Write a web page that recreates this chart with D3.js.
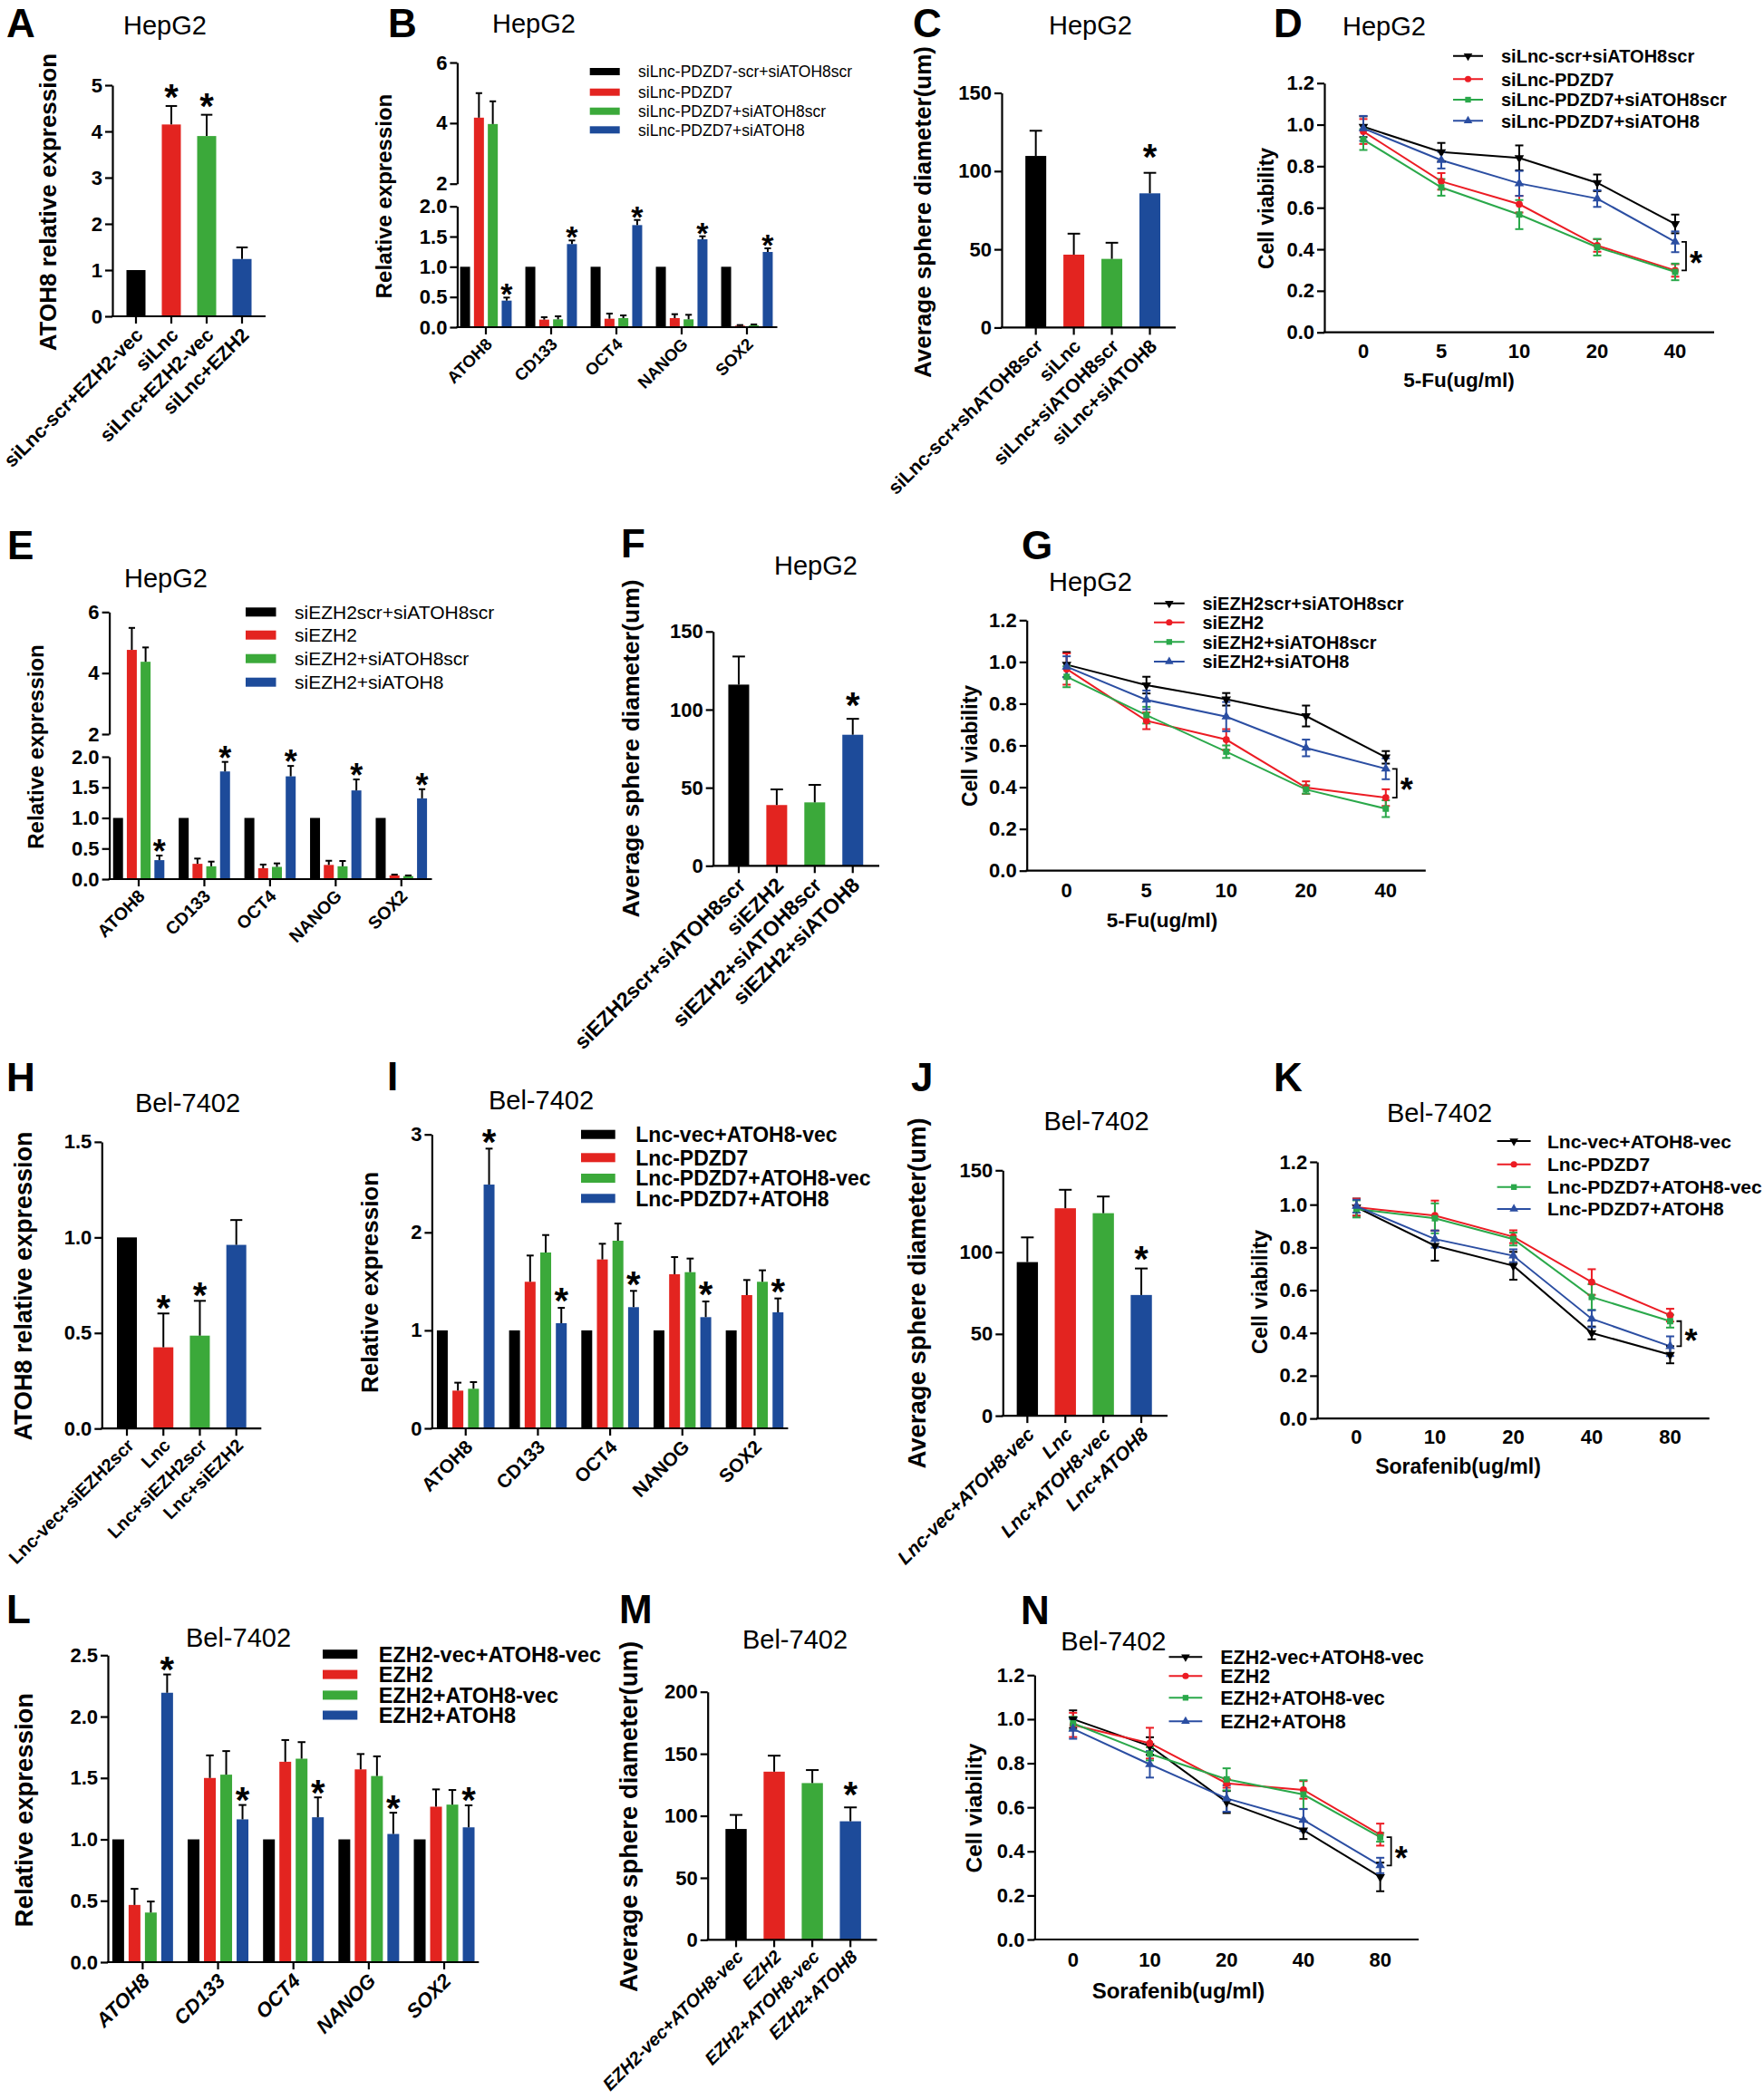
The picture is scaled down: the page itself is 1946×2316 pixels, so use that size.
<!DOCTYPE html>
<html><head><meta charset="utf-8">
<script src="https://cdn.jsdelivr.net/npm/d3@7"></script>
<style>body{margin:0;background:#fff}</style>
</head><body>
<svg id="fig" width="1946" height="2316"></svg>
<script>
// ===================== DATA =====================
const GENES = ["ATOH8","CD133","OCT4","NANOG","SOX2"];

// A
const A_groups = ["siLnc-scr+EZH2-vec","siLnc","siLnc+EZH2-vec","siLnc+EZH2"];
const A_means = [1.0, 4.15, 3.90, 1.24];
const A_errs  = [0, 0.40, 0.46, 0.25];
const A_sig   = [0, 1, 1, 0];
const A_ticks = [0,1,2,3,4,5];

// B
const B_series = ["siLnc-PDZD7-scr+siATOH8scr","siLnc-PDZD7","siLnc-PDZD7+siATOH8scr","siLnc-PDZD7+siATOH8"];
const B_means = [[1,1,1,1,1],[4.18,0.125,0.14,0.15,0.025],[3.97,0.13,0.15,0.13,0.03],[0.44,1.376,1.69,1.455,1.245]];
const B_errs  = [[0,0,0,0,0],[0.81,0.04,0.085,0.065,0.01],[0.75,0.05,0.045,0.075,0.015],[0.05,0.06,0.085,0.05,0.06]];
const B_sig   = [0,0,0,1];

// C
const C_groups = ["siLnc-scr+shATOH8scr","siLnc","siLnc+siATOH8scr","siLnc+siATOH8"];
const C_means = [109.7, 46.6, 43.9, 85.8];
const C_errs  = [16.1, 13.4, 10.3, 13.1];
const C_sig   = [0,0,0,1];

// D
const D_doses = ["0","5","10","20","40"];
const D_series = ["siLnc-scr+siATOH8scr","siLnc-PDZD7","siLnc-PDZD7+siATOH8scr","siLnc-PDZD7+siATOH8"];
const D_means = [[0.99,0.868,0.84,0.72,0.522],[0.967,0.727,0.617,0.418,0.298],[0.928,0.698,0.567,0.41,0.291],[0.982,0.829,0.717,0.644,0.436]];
const D_errs  = [[0.05,0.044,0.06,0.04,0.045],[0.06,0.04,0.04,0.03,0.03],[0.05,0.04,0.07,0.04,0.04],[0.06,0.04,0.06,0.04,0.05]];
const D_bracket = [3,1];

// E
const E_series = ["siEZH2scr+siATOH8scr","siEZH2","siEZH2+siATOH8scr","siEZH2+siATOH8"];
const E_means = [[1,1,1,1,1],[4.76,0.25,0.178,0.232,0.06],[4.37,0.21,0.2,0.21,0.05],[0.31,1.76,1.68,1.45,1.32]];
const E_errs  = [[0,0,0,0,0],[0.72,0.086,0.06,0.068,0.014],[0.47,0.076,0.057,0.086,0.01],[0.075,0.156,0.17,0.18,0.15]];
const E_sig   = [0,0,0,1];

// F
const F_groups = ["siEZH2scr+siATOH8scr","siEZH2","siEZH2+siATOH8scr","siEZH2+siATOH8"];
const F_means = [116, 38.9, 40.6, 83.9];
const F_errs  = [18, 10, 11.2, 10.2];
const F_sig   = [0,0,0,1];

// G
const G_doses = ["0","5","10","20","40"];
const G_series = ["siEZH2scr+siATOH8scr","siEZH2","siEZH2+siATOH8scr","siEZH2+siATOH8"];
const G_means = [[0.987,0.889,0.821,0.741,0.543],[0.966,0.718,0.628,0.398,0.35],[0.929,0.745,0.57,0.389,0.297],[0.977,0.818,0.738,0.588,0.488]];
const G_errs  = [[0.06,0.04,0.03,0.05,0.03],[0.075,0.04,0.05,0.03,0.04],[0.05,0.04,0.03,0.02,0.04],[0.05,0.045,0.07,0.04,0.05]];
const G_bracket = [3,1];

// H
const H_groups = ["Lnc-vec+siEZH2scr","Lnc","Lnc+siEZH2scr","Lnc+siEZH2"];
const H_means = [1.0, 0.425, 0.486, 0.961];
const H_errs  = [0, 0.177, 0.182, 0.13];
const H_sig   = [0,1,1,0];

// I
const I_series = ["Lnc-vec+ATOH8-vec","Lnc-PDZD7","Lnc-PDZD7+ATOH8-vec","Lnc-PDZD7+ATOH8"];
const I_means = [[1,1,1,1,1],[0.385,1.496,1.724,1.573,1.36],[0.404,1.795,1.915,1.594,1.496],[2.488,1.073,1.237,1.135,1.184]];
const I_errs  = [[0,0,0,0,0],[0.081,0.268,0.16,0.175,0.154],[0.068,0.178,0.176,0.139,0.117],[0.367,0.157,0.166,0.16,0.142]];
const I_sig   = [0,0,0,1];

// J
const J_groups = ["Lnc-vec+ATOH8-vec","Lnc","Lnc+ATOH8-vec","Lnc+ATOH8"];
const J_means = [93.9, 126.8, 123.8, 73.8];
const J_errs  = [15.1, 11.3, 10.2, 16.2];
const J_sig   = [0,0,0,1];

// K
const K_doses = ["0","10","20","40","80"];
const K_series = ["Lnc-vec+ATOH8-vec","Lnc-PDZD7","Lnc-PDZD7+ATOH8-vec","Lnc-PDZD7+ATOH8"];
const K_means = [[0.988,0.808,0.714,0.4,0.298],[0.988,0.949,0.85,0.638,0.483],[0.98,0.936,0.839,0.568,0.455],[0.993,0.839,0.761,0.466,0.338]];
const K_errs  = [[0.04,0.07,0.065,0.03,0.04],[0.04,0.07,0.03,0.06,0.03],[0.04,0.07,0.03,0.06,0.03],[0.03,0.04,0.03,0.04,0.046]];
const K_bracket = [2,3];

// L
const L_series = ["EZH2-vec+ATOH8-vec","EZH2","EZH2+ATOH8-vec","EZH2+ATOH8"];
const L_means = [[1,1,1,1,1],[0.466,1.5,1.632,1.57,1.266],[0.404,1.527,1.657,1.516,1.283],[2.194,1.163,1.18,1.044,1.098]];
const L_errs  = [[0,0,0,0,0],[0.131,0.184,0.177,0.125,0.141],[0.09,0.192,0.135,0.16,0.119],[0.149,0.117,0.162,0.173,0.179]];
const L_sig   = [0,0,0,1];

// M
const M_groups = ["EZH2-vec+ATOH8-vec","EZH2","EZH2+ATOH8-vec","EZH2+ATOH8"];
const M_means = [89.4, 135.6, 126.4, 95.6];
const M_errs  = [11.3, 12.9, 10.5, 11.2];
const M_sig   = [0,0,0,1];

// N
const N_doses = ["0","10","20","40","80"];
const N_series = ["EZH2-vec+ATOH8-vec","EZH2","EZH2+ATOH8-vec","EZH2+ATOH8"];
const N_means = [[1.0,0.878,0.624,0.496,0.284],[0.974,0.891,0.709,0.679,0.476],[0.981,0.843,0.727,0.658,0.464],[0.956,0.795,0.64,0.542,0.336]];
const N_errs  = [[0.04,0.04,0.05,0.04,0.065],[0.055,0.07,0.02,0.04,0.05],[0.03,0.03,0.05,0.065,0.02],[0.045,0.06,0.06,0.05,0.035]];
const N_bracket = [2,3];

const VIAB_TICKS = [0,0.2,0.4,0.6,0.8,1.0,1.2];

// ===================== DRAWING =====================
const FONT = '"Liberation Sans", Arial, Helvetica, sans-serif';
const BAR_COLORS = ["#000000","#e32420","#3ba93a","#1d4b9a"];
const LINE_COLORS = ["#000000","#ec1c24","#2aa84a","#2b4ea2"];
const AXW = 2.2;
const TICK_FS = 22;
const svg = d3.select("#fig").attr("font-family", FONT);
svg.append("rect").attr("width",1946).attr("height",2316).attr("fill","#fff");

function letter(t,x,y){ svg.append("text").attr("x",x).attr("y",y).attr("font-size",44).attr("font-weight","bold").text(t); }
function title(t,cx,y){ svg.append("text").attr("x",cx).attr("y",y).attr("text-anchor","middle").attr("font-size",29).text(t); }
function ylabel(t,cx,cy,fs){
  svg.append("text").attr("transform",`translate(${cx},${cy}) rotate(-90)`).attr("text-anchor","middle")
    .attr("dy","0.36em").attr("font-size",fs).attr("font-weight","bold").text(t);
}
function star(x,cy,fs){
  svg.append("text").attr("x",x).attr("y",cy+0.56*fs).attr("text-anchor","middle")
    .attr("font-size",fs).attr("font-weight","bold").text("*");
}
function yAxisDraw(scale,x,ticks,fmt){
  const g = svg.append("g").attr("transform",`translate(${x},0)`)
    .call(d3.axisLeft(scale).tickValues(ticks).tickFormat(fmt).tickSize(8).tickPadding(3).tickSizeOuter(0));
  g.attr("font-family",FONT);
  g.select(".domain").attr("stroke","#000").attr("stroke-width",AXW);
  g.selectAll(".tick line").attr("stroke","#000").attr("stroke-width",AXW);
  g.selectAll(".tick text").attr("fill","#000").attr("font-size",TICK_FS).attr("font-weight","bold");
  return g;
}
function hline(x1,x2,y){ svg.append("line").attr("x1",x1).attr("x2",x2).attr("y1",y).attr("y2",y).attr("stroke","#000").attr("stroke-width",AXW); }
function errUp(x,y0,y1,cap,color){
  svg.append("line").attr("x1",x).attr("x2",x).attr("y1",y0).attr("y2",y1).attr("stroke",color).attr("stroke-width",2);
  svg.append("line").attr("x1",x-cap/2).attr("x2",x+cap/2).attr("y1",y1).attr("y2",y1).attr("stroke",color).attr("stroke-width",2);
}
function xLabel(t,x,y,c){
  svg.append("text").attr("transform",`translate(${x+c.ldx},${y+c.ldy}) rotate(-45)`)
    .attr("text-anchor","end").attr("font-size",c.lblFs).attr("font-weight","bold")
    .attr("font-style",c.italic?"italic":"normal").text(t);
}

function simpleBar(c){
  const y = d3.scaleLinear().domain(c.dom).range([c.yZero,c.yTop]);
  const x = d3.scaleBand().domain(c.groups).range(c.band);
  const cx = g => x(g)+x.bandwidth()/2;
  svg.append("g").selectAll("rect").data(c.groups).join("rect")
    .attr("x",g=>cx(g)-c.bw/2).attr("width",c.bw)
    .attr("y",(g,i)=>y(c.means[i])).attr("height",(g,i)=>c.yZero-y(c.means[i]))
    .attr("fill",(g,i)=>BAR_COLORS[i]);
  c.groups.forEach((g,i)=>{
    if(c.errs[i]>0) errUp(cx(g),y(c.means[i]),y(c.means[i]+c.errs[i]),c.bw*0.6,"#000");
    if(c.sig[i]) star(cx(g),y(c.means[i]+c.errs[i])-c.starOff,c.starFs||40);
  });
  yAxisDraw(y,c.axisX,c.ticks,c.fmt);
  hline(c.axisX-AXW/2,c.axisX1,c.yZero);
  c.groups.forEach(g=>{
    svg.append("line").attr("x1",cx(g)).attr("x2",cx(g)).attr("y1",c.yZero).attr("y2",c.yZero+8).attr("stroke","#000").attr("stroke-width",AXW);
    xLabel(g,cx(g),c.yZero,c);
  });
}

function groupedBar(c){
  const yL = d3.scaleLinear().domain([0,c.lowMax]).range([c.yZero,c.yLowTop]);
  const yU = c.broken ? d3.scaleLinear().domain([c.lowMax,c.upMax]).range([c.yUpBot,c.yUpTop]) : null;
  const yv = v => (yU && v>c.lowMax) ? yU(v) : yL(v);
  const x = d3.scaleBand().domain(GENES).range(c.band);
  const inner = d3.scaleBand().domain(d3.range(c.series.length)).range([-2*c.sp,2*c.sp]);
  const gx = g => x(g)+x.bandwidth()/2;
  const bx = (gi,s) => gx(GENES[gi])+inner(s)+inner.bandwidth()/2;
  c.means.forEach((arr,s)=>{
    svg.append("g").selectAll("rect").data(arr).join("rect")
      .attr("x",(m,gi)=>bx(gi,s)-c.bw/2).attr("width",c.bw)
      .attr("y",m=>yv(m)).attr("height",m=>c.yZero-yv(m)).attr("fill",BAR_COLORS[s]);
  });
  c.means.forEach((arr,s)=>{
    arr.forEach((m,gi)=>{
      const e = c.errs[s][gi];
      if(e>0) errUp(bx(gi,s),yv(m),yv(m+e),c.bw*0.65,"#000");
      if(c.sig[s]) star(bx(gi,s),yv(m+e)-c.starOff,c.starFs||40);
    });
  });
  yAxisDraw(yL,c.axisX,c.lowTicks,c.lowFmt);
  if(yU) yAxisDraw(yU,c.axisX,c.upTicks,d3.format("d"));
  hline(c.axisX-AXW/2,c.axisX1,c.yZero);
  GENES.forEach(g=>{
    svg.append("line").attr("x1",gx(g)).attr("x2",gx(g)).attr("y1",c.yZero).attr("y2",c.yZero+8).attr("stroke","#000").attr("stroke-width",AXW);
    xLabel(g,gx(g),c.yZero,c);
  });
  const L = c.legend;
  c.series.forEach((s,i)=>{
    svg.append("rect").attr("x",L.x0).attr("y",L.rows[i]-L.h/2).attr("width",L.w).attr("height",L.h).attr("fill",BAR_COLORS[i]);
    svg.append("text").attr("x",L.tx).attr("y",L.rows[i]).attr("dy","0.36em").attr("font-size",L.fs)
      .attr("font-weight",L.bold?"bold":"normal").text(s);
  });
}

const SYMS = [
  {t:d3.symbolTriangle, rot:180},
  {t:d3.symbolCircle, rot:0},
  {t:d3.symbolSquare, rot:0},
  {t:d3.symbolTriangle, rot:0}
];
function marker(x,y,s,size){
  svg.append("path").attr("d",d3.symbol().type(SYMS[s].t).size(size||48)())
    .attr("transform",`translate(${x},${y}) rotate(${SYMS[s].rot})`).attr("fill",LINE_COLORS[s]);
}
function lineChart(c){
  const x = d3.scalePoint().domain(c.doses).range([c.x0,c.x1]).padding(0.5);
  const y = d3.scaleLinear().domain([0,1.2]).range([c.y0,c.yTop]);
  const line = d3.line().x((d,i)=>x(c.doses[i])).y(d=>y(d));
  c.means.forEach((arr,s)=>{
    svg.append("path").attr("d",line(arr)).attr("fill","none").attr("stroke",LINE_COLORS[s]).attr("stroke-width",2);
  });
  c.means.forEach((arr,s)=>{
    arr.forEach((m,i)=>{
      const e = c.errs[s][i], xx = x(c.doses[i]);
      svg.append("line").attr("x1",xx).attr("x2",xx).attr("y1",y(m-e)).attr("y2",y(m+e)).attr("stroke",LINE_COLORS[s]).attr("stroke-width",2);
      [m-e,m+e].forEach(v=>svg.append("line").attr("x1",xx-4.5).attr("x2",xx+4.5).attr("y1",y(v)).attr("y2",y(v)).attr("stroke",LINE_COLORS[s]).attr("stroke-width",2));
    });
  });
  c.means.forEach((arr,s)=>arr.forEach((m,i)=>marker(x(c.doses[i]),y(m),s)));
  yAxisDraw(y,c.x0,VIAB_TICKS,d3.format(".1f"));
  hline(c.x0-AXW/2,c.x1,c.y0);
  c.doses.forEach(d=>svg.append("text").attr("x",x(d)).attr("y",c.xtickY).attr("dy","0.36em").attr("text-anchor","middle")
    .attr("font-size",TICK_FS).attr("font-weight","bold").text(d));
  svg.append("text").attr("x",c.xl.cx).attr("y",c.xl.y).attr("text-anchor","middle").attr("font-size",c.xl.fs).attr("font-weight","bold").text(c.xl.t);
  const last = c.doses[c.doses.length-1], n = c.doses.length-1;
  const bx = x(last)+12;
  const yt = y(c.means[c.bracket[0]][n]), yb = y(c.means[c.bracket[1]][n]);
  svg.append("path").attr("d",`M${bx-5},${yt}H${bx}V${yb}H${bx-5}`).attr("fill","none").attr("stroke","#000").attr("stroke-width",1.8);
  star(bx+11,(yt+yb)/2,36);
  const L = c.legend;
  c.series.forEach((s,i)=>{
    svg.append("line").attr("x1",L.lx0).attr("x2",L.lx1).attr("y1",L.rows[i]).attr("y2",L.rows[i]).attr("stroke",LINE_COLORS[i]).attr("stroke-width",2);
    marker((L.lx0+L.lx1)/2,L.rows[i],i,40);
    svg.append("text").attr("x",L.tx).attr("y",L.rows[i]).attr("dy","0.36em").attr("font-size",L.fs).attr("font-weight","bold").text(s);
  });
}

// ---------- Panel A ----------
letter("A",7,41); title("HepG2",182,37.5); ylabel("ATOH8 relative expression",53,223,26);
simpleBar({groups:A_groups,means:A_means,errs:A_errs,sig:A_sig,axisX:124,axisX1:293,yZero:349,yTop:94,dom:[0,5],
  ticks:A_ticks,fmt:d3.format("d"),band:[130.5,286.5],bw:21,lblFs:21.5,ldx:9,ldy:22,italic:false,starOff:18});

// ---------- Panel B ----------
letter("B",428,41); title("HepG2",589,36); ylabel("Relative expression",423,216.5,24);
groupedBar({series:B_series,means:B_means,errs:B_errs,sig:B_sig,axisX:504.4,axisX1:857.5,yZero:361,
  broken:true,lowMax:2,upMax:6,yLowTop:227.7,yUpBot:202.7,yUpTop:69,lowTicks:[0,0.5,1,1.5,2],lowFmt:d3.format(".1f"),upTicks:[2,4,6],
  band:[500,860],sp:15.3,bw:11,lblFs:18.5,ldx:8,ldy:20,starOff:11,starFs:34,
  legend:{x0:650.7,w:33,h:8,rows:[79,101.7,122.7,143.3],tx:704,fs:17.5,bold:false}});

// ---------- Panel C ----------
letter("C",1007,41); title("HepG2",1203,37.5); ylabel("Average sphere diameter(um)",1018,234,26);
simpleBar({groups:C_groups,means:C_means,errs:C_errs,sig:C_sig,axisX:1105,axisX1:1297,yZero:361.4,yTop:102.5,dom:[0,150],
  ticks:[0,50,100,150],fmt:d3.format("d"),band:[1121.7,1289.5],bw:23,lblFs:21,ldx:9,ldy:22,italic:false,starOff:26});

// ---------- Panel D ----------
letter("D",1405,41); title("HepG2",1527,39); ylabel("Cell viability",1396.5,230,23);
lineChart({doses:D_doses,series:D_series,means:D_means,errs:D_errs,bracket:D_bracket,x0:1461,x1:1891,y0:366.7,yTop:91.7,
  xtickY:386.7,xl:{t:"5-Fu(ug/ml)",cx:1609.5,y:426.7,fs:22.5},
  legend:{lx0:1603,lx1:1636,rows:[61.7,87.3,110,133.3],tx:1656,fs:20}});

// ---------- Panel E ----------
letter("E",8,617); title("HepG2",183,648); ylabel("Relative expression",39.5,824,24);
groupedBar({series:E_series,means:E_means,errs:E_errs,sig:E_sig,axisX:120.6,axisX1:476.5,yZero:970,
  broken:true,lowMax:2,upMax:6,yLowTop:835,yUpBot:810,yUpTop:675.3,lowTicks:[0,0.5,1,1.5,2],lowFmt:d3.format(".1f"),upTicks:[2,4,6],
  band:[116.8,479],sp:15.2,bw:11,lblFs:19.5,ldx:8,ldy:20,starOff:12,starFs:36,
  legend:{x0:271,w:33.5,h:10,rows:[675.3,700.7,726.7,752.7],tx:325,fs:21,bold:false}});

// ---------- Panel F ----------
letter("F",685,615); title("HepG2",900,634); ylabel("Average sphere diameter(um)",695,826,26.5);
simpleBar({groups:F_groups,means:F_means,errs:F_errs,sig:F_sig,axisX:786.7,axisX1:970,yZero:955.3,yTop:696.8,dom:[0,150],
  ticks:[0,50,100,150],fmt:d3.format("d"),band:[794,961.7],bw:23,lblFs:23,ldx:9,ldy:23,italic:false,starOff:24});

// ---------- Panel G ----------
letter("G",1127,617); title("HepG2",1203,651.7); ylabel("Cell viability",1069.4,823,23);
lineChart({doses:G_doses,series:G_series,means:G_means,errs:G_errs,bracket:G_bracket,x0:1132.7,x1:1572.8,y0:960.7,yTop:684.3,
  xtickY:981.7,xl:{t:"5-Fu(ug/ml)",cx:1282,y:1023,fs:22.5},
  legend:{lx0:1273,lx1:1306.7,rows:[665.7,686.7,708.3,730],tx:1326.4,fs:20}});

// ---------- Panel H ----------
letter("H",7,1204); title("Bel-7402",207,1226.6); ylabel("ATOH8 relative expression",25,1419,27);
simpleBar({groups:H_groups,means:H_means,errs:H_errs,sig:H_sig,axisX:112.3,axisX1:288.3,yZero:1576.2,yTop:1259.9,dom:[0,1.5],
  ticks:[0,0.5,1,1.5],fmt:d3.format(".1f"),band:[119.9,280.8],bw:22,lblFs:20,ldx:9,ldy:20,italic:false,starOff:15});

// ---------- Panel I ----------
letter("I",427,1203); title("Bel-7402",597,1224); ylabel("Relative expression",407.5,1415,26);
groupedBar({series:I_series,means:I_means,errs:I_errs,sig:I_sig,axisX:476.4,axisX1:869.4,yZero:1576,
  broken:false,lowMax:3,yLowTop:1251.7,lowTicks:[0,1,2,3],lowFmt:d3.format("d"),
  band:[473.9,872.3],sp:17.2,bw:12,lblFs:21,ldx:9,ldy:22,starOff:16,starFs:40,
  legend:{x0:641,w:37.7,h:10,rows:[1251.7,1277.3,1300,1322.3],tx:701.3,fs:23,bold:true}});

// ---------- Panel J ----------
letter("J",1005,1204); title("Bel-7402",1209.5,1246.9); ylabel("Average sphere diameter(um)",1010.8,1427,27.5);
simpleBar({groups:J_groups,means:J_means,errs:J_errs,sig:J_sig,axisX:1106.3,axisX1:1288,yZero:1562.1,yTop:1291.3,dom:[0,150],
  ticks:[0,50,100,150],fmt:d3.format("d"),band:[1112.4,1280],bw:23.4,lblFs:21,ldx:9,ldy:22,italic:true,starOff:19});

// ---------- Panel K ----------
letter("K",1405,1204); title("Bel-7402",1588,1237.7); ylabel("Cell viability",1389.7,1425.5,23.5);
lineChart({doses:K_doses,series:K_series,means:K_means,errs:K_errs,bracket:K_bracket,x0:1453.2,x1:1885.7,y0:1565.1,yTop:1282,
  xtickY:1585.5,xl:{t:"Sorafenib(ug/ml)",cx:1608.5,y:1626,fs:23},
  legend:{lx0:1651.6,lx1:1688.6,rows:[1259.1,1284.7,1309.8,1333.9],tx:1707,fs:21}});

// ---------- Panel L ----------
letter("L",7,1791); title("Bel-7402",263,1817); ylabel("Relative expression",26,1997,27.5);
groupedBar({series:L_series,means:L_means,errs:L_errs,sig:L_sig,axisX:119,axisX1:528.3,yZero:2165,
  broken:false,lowMax:2.5,yLowTop:1826.3,lowTicks:[0,0.5,1,1.5,2,2.5],lowFmt:d3.format(".1f"),
  band:[115.8,531.6],sp:18,bw:13,lblFs:22,ldx:9,ldy:22,italic:true,starOff:14,starFs:40,
  legend:{x0:356,w:38.3,h:10,rows:[1825.2,1847.6,1870.4,1892.5],tx:417.7,fs:23.5,bold:true}});

// ---------- Panel M ----------
letter("M",683,1791); title("Bel-7402",877,1819); ylabel("Average sphere diameter(um)",693,2004.5,27.5);
simpleBar({groups:M_groups,means:M_means,errs:M_errs,sig:M_sig,axisX:780.7,axisX1:967.5,yZero:2140.4,yTop:1866.7,dom:[0,200],
  ticks:[0,50,100,150,200],fmt:d3.format("d"),band:[791,959.2],bw:23.4,lblFs:20,ldx:9,ldy:20,italic:true,starOff:23});

// ---------- Panel N ----------
letter("N",1126,1792); title("Bel-7402",1228.4,1821); ylabel("Cell viability",1074.4,1995,24.5);
lineChart({doses:N_doses,series:N_series,means:N_means,errs:N_errs,bracket:N_bracket,x0:1141.4,x1:1565,y0:2140,yTop:1848.3,
  xtickY:2161.7,xl:{t:"Sorafenib(ug/ml)",cx:1300,y:2205,fs:24},
  legend:{lx0:1289.5,lx1:1326.3,rows:[1828.3,1849.3,1873.3,1899.3],tx:1346.2,fs:21.5}});
</script>
</body></html>
